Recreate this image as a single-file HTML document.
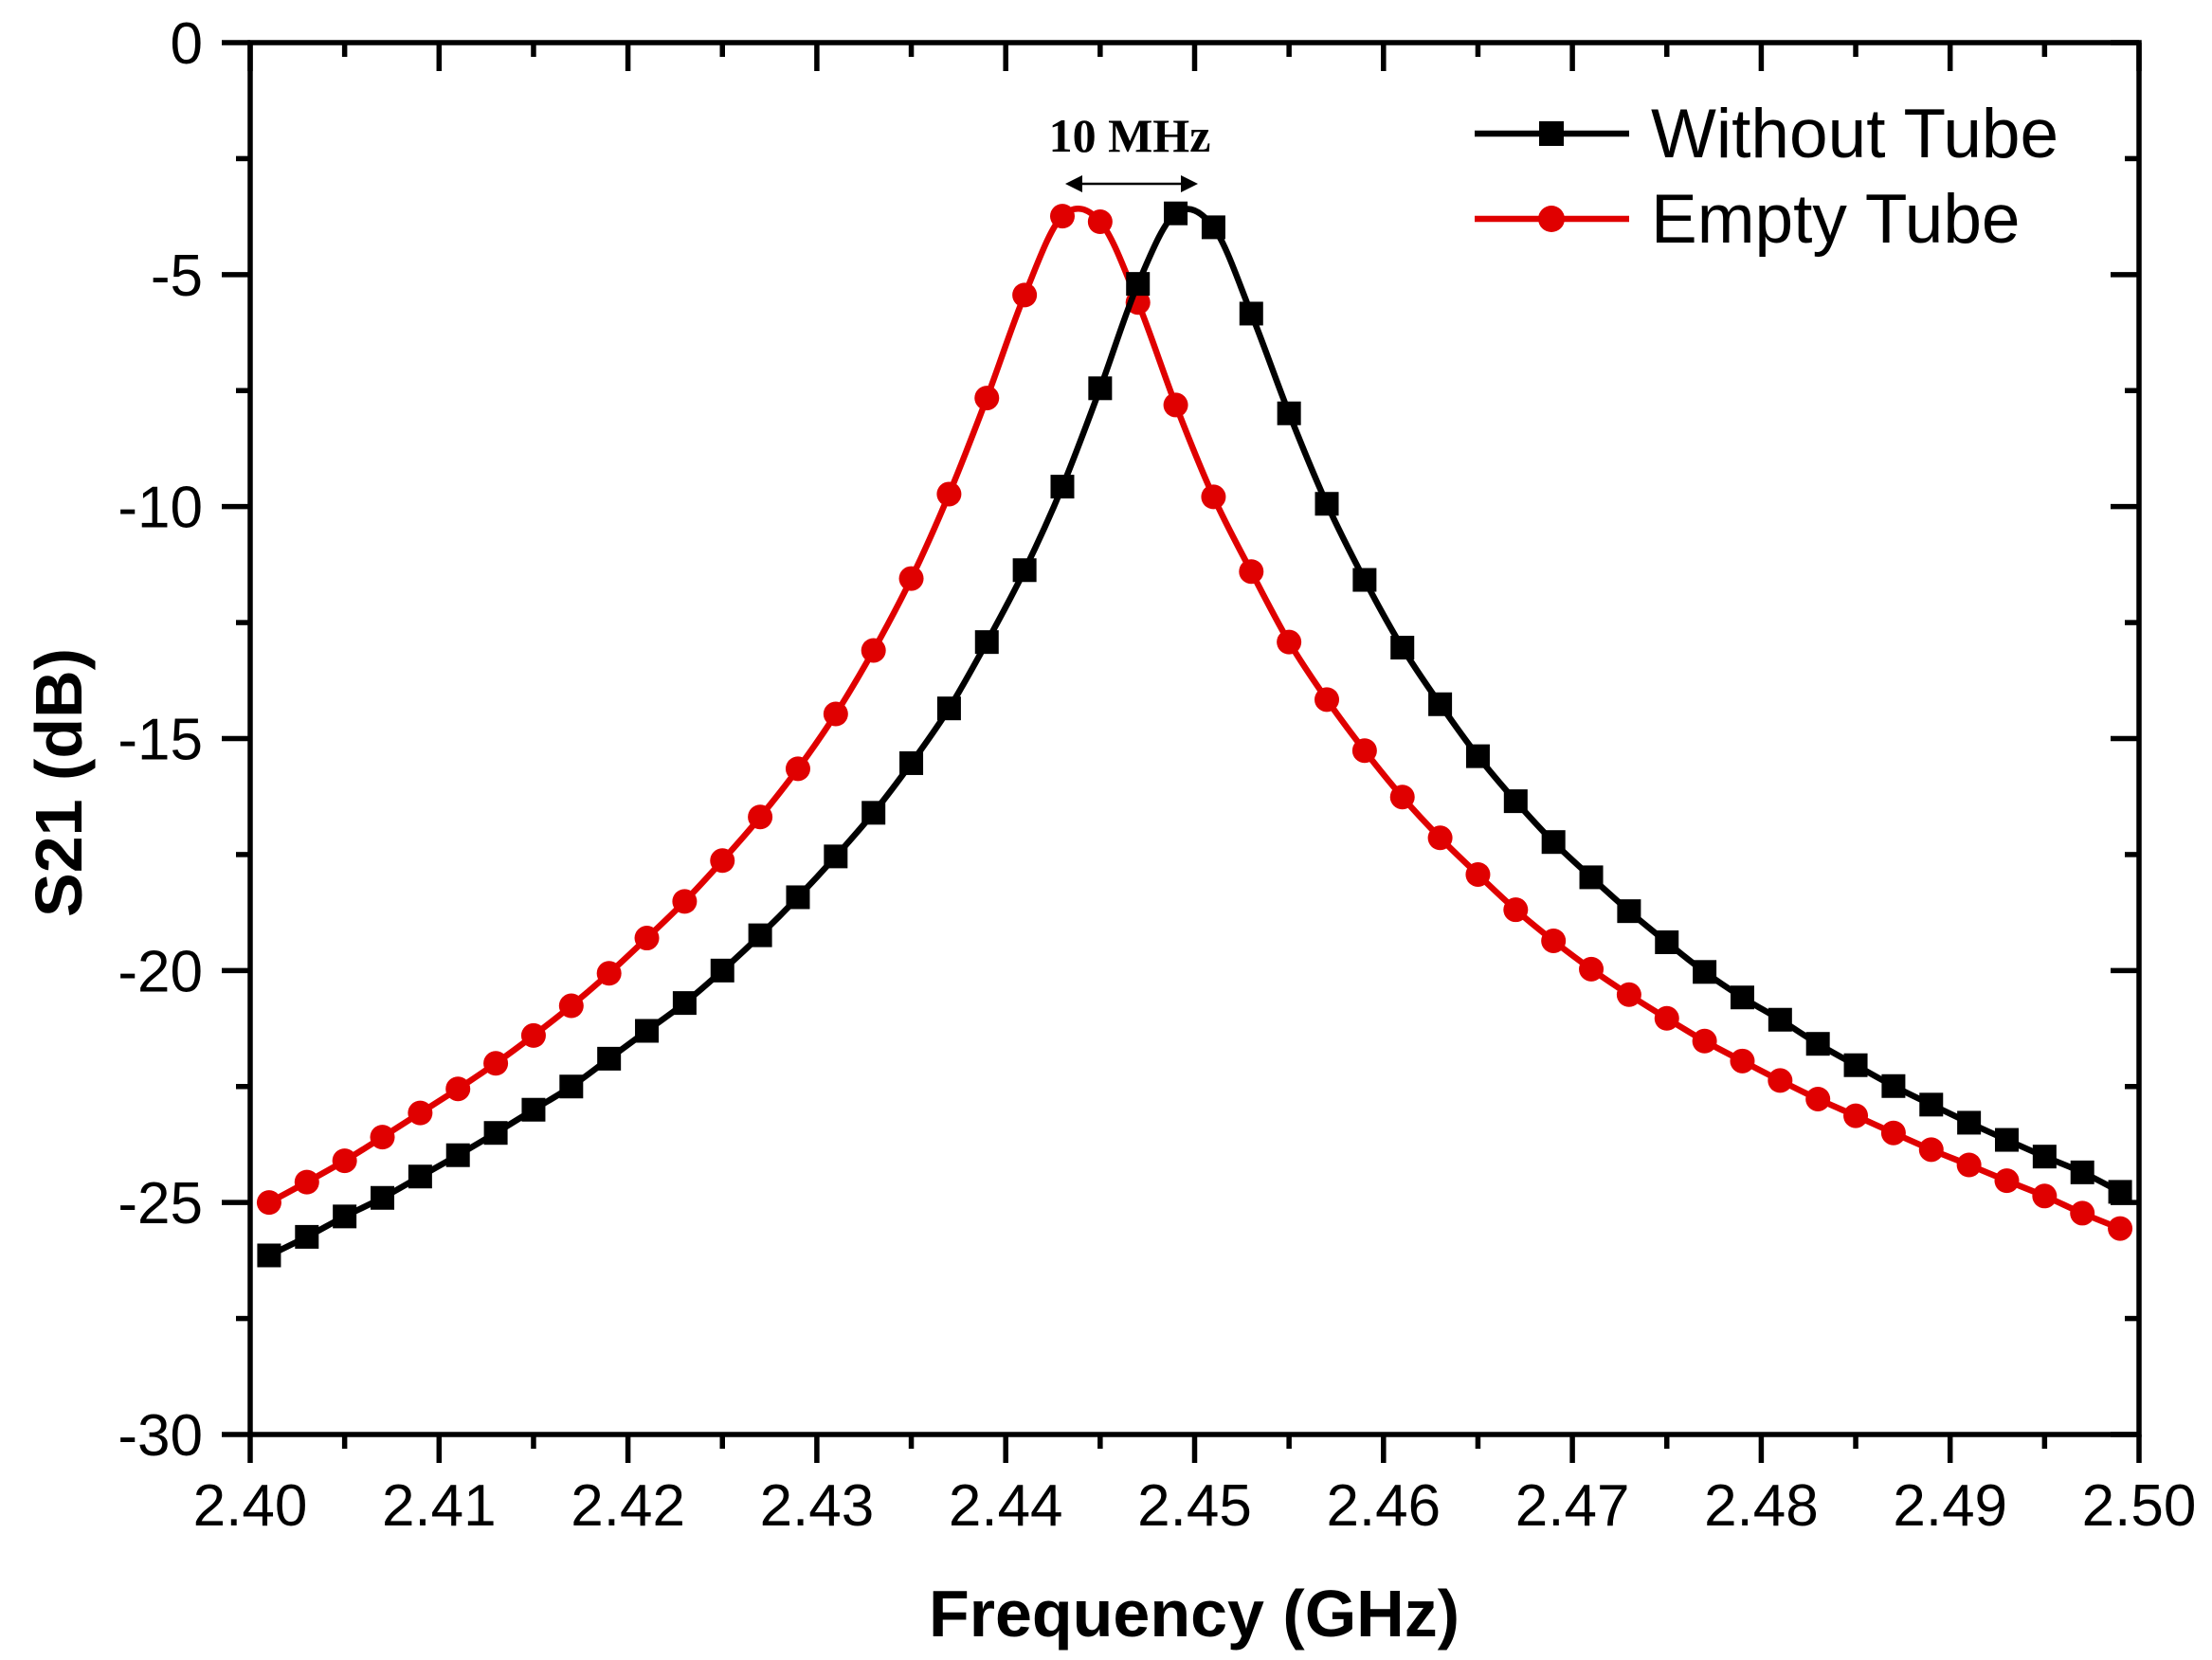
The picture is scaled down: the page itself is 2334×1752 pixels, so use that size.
<!DOCTYPE html>
<html><head><meta charset="utf-8"><style>
html,body{margin:0;padding:0;background:#fff;}
svg{display:block;}
text{font-family:"Liberation Sans",Arial,sans-serif;fill:#000;}
</style></head><body>
<svg id="chart" width="2334" height="1752" viewBox="0 0 2334 1752" xmlns="http://www.w3.org/2000/svg"></svg>
<script>
const freqs = [];
for (let i = 0; i < 50; i++) freqs.push(+(2.401 + 0.002 * i).toFixed(3));
const withoutTube = [-26.14,-25.74,-25.3,-24.9,-24.44,-23.98,-23.5,-23.0,-22.5,-21.9,-21.3,-20.7,-20.0,-19.24,-18.42,-17.54,-16.6,-15.53,-14.35,-12.92,-11.37,-9.57,-7.45,-5.2,-3.68,-3.98,-5.84,-7.99,-9.94,-11.58,-13.04,-14.26,-15.38,-16.35,-17.23,-17.99,-18.72,-19.39,-20.03,-20.58,-21.06,-21.58,-22.04,-22.49,-22.89,-23.28,-23.65,-24.01,-24.35,-24.77];
const emptyTube = [-25.0,-24.56,-24.1,-23.59,-23.07,-22.55,-22.0,-21.4,-20.76,-20.06,-19.3,-18.51,-17.63,-16.69,-15.65,-14.47,-13.1,-11.55,-9.73,-7.66,-5.44,-3.74,-3.86,-5.6,-7.81,-9.79,-11.4,-12.92,-14.16,-15.26,-16.26,-17.14,-17.93,-18.69,-19.36,-19.97,-20.52,-21.03,-21.52,-21.95,-22.37,-22.77,-23.13,-23.5,-23.86,-24.19,-24.53,-24.86,-25.23,-25.56];
const xTicks = [2.40,2.41,2.42,2.43,2.44,2.45,2.46,2.47,2.48,2.49,2.50];
const xTickLabels = ["2.40","2.41","2.42","2.43","2.44","2.45","2.46","2.47","2.48","2.49","2.50"];
const yTicks = [0,-5,-10,-15,-20,-25,-30];
const yTickLabels = ["0","-5","-10","-15","-20","-25","-30"];

const L=264,R=2257,T=45,B=1514;
const X0=2.40,X1=2.50,Y0=-30,Y1=0;
const sx=v=>L+(v-X0)/(X1-X0)*(R-L);
const sy=v=>B-(v-Y0)/(Y1-Y0)*(B-T);
const svg=document.getElementById('chart');
const NS='http://www.w3.org/2000/svg';
function mk(tag,attrs,parent){const e=document.createElementNS(NS,tag);for(const k in attrs)e.setAttribute(k,attrs[k]);(parent||svg).appendChild(e);return e;}

const tg=mk('g',{});


xTicks.forEach((v,i)=>{
  const x=sx(v);
  mk('line',{x1:x,y1:B,x2:x,y2:B+30,stroke:'#000','stroke-width':5.5},tg);
  mk('line',{x1:x,y1:T,x2:x,y2:T+30,stroke:'#000','stroke-width':5.5},tg);
  if(i<xTicks.length-1){const xm=sx(v+0.005);
    mk('line',{x1:xm,y1:B,x2:xm,y2:B+15,stroke:'#000','stroke-width':5.5},tg);
    mk('line',{x1:xm,y1:T,x2:xm,y2:T+15,stroke:'#000','stroke-width':5.5},tg);}
  const t=mk('text',{x:x,y:1610,'text-anchor':'middle','font-size':62},tg);
  t.textContent=xTickLabels[i];
  
  
});
yTicks.forEach((v,i)=>{
  const y=sy(v);
  mk('line',{x1:L-30,y1:y,x2:L,y2:y,stroke:'#000','stroke-width':5.5},tg);
  mk('line',{x1:R-30,y1:y,x2:R,y2:y,stroke:'#000','stroke-width':5.5},tg);
  if(i<yTicks.length-1){const ym=sy(v-2.5);
    mk('line',{x1:L-15,y1:ym,x2:L,y2:ym,stroke:'#000','stroke-width':5.5},tg);
    mk('line',{x1:R-15,y1:ym,x2:R,y2:ym,stroke:'#000','stroke-width':5.5},tg);}
  const t=mk('text',{x:214,y:y+22,'text-anchor':'end','font-size':62},tg);
  t.textContent=yTickLabels[i];
  
  
});
const frame=mk('rect',{x:L,y:T,width:R-L,height:B-T,fill:'none',stroke:'#000','stroke-width':5.5});



function smoothPath(xs,ys){
  const p=xs.map((x,i)=>[sx(x),sy(ys[i])]);
  let d='M'+p[0][0]+','+p[0][1];
  for(let i=0;i<p.length-1;i++){
    const p0=p[i-1]||p[i],p1=p[i],p2=p[i+1],p3=p[i+2]||p2;
    const c1=[p1[0]+(p2[0]-p0[0])/6,p1[1]+(p2[1]-p0[1])/6];
    const c2=[p2[0]-(p3[0]-p1[0])/6,p2[1]-(p3[1]-p1[1])/6];
    d+=' C'+c1[0]+','+c1[1]+' '+c2[0]+','+c2[1]+' '+p2[0]+','+p2[1];
  }
  return d;
}
function series(vals,color,shape,name){
  const g=mk('g',{});
  
  
  const pth=mk('path',{d:smoothPath(freqs,vals),fill:'none',stroke:color,'stroke-width':6.5},g);
  
  
  vals.forEach((v,i)=>{
    const x=sx(freqs[i]),y=sy(v);let m;
    if(shape==='square') m=mk('rect',{x:x-12.5,y:y-12.5,width:25,height:25,fill:color},g);
    else m=mk('circle',{cx:x,cy:y,r:13,fill:color},g);
    
    
  });
}
series(emptyTube,'#e00000','circle','empty-tube-series');
series(withoutTube,'#000','square','without-tube-series');

const lg=mk('g',{});


mk('line',{x1:1556,y1:141,x2:1719,y2:141,stroke:'#000','stroke-width':6.5},lg);
mk('rect',{x:1624,y:128,width:26,height:26,fill:'#000'},lg);
const l1=mk('text',{x:1742,y:166,'font-size':73},lg);l1.textContent='Without Tube';


mk('line',{x1:1556,y1:231,x2:1719,y2:231,stroke:'#e00000','stroke-width':6.5},lg);
mk('circle',{cx:1637,cy:231,r:14,fill:'#e00000'},lg);
const l2=mk('text',{x:1742,y:256,'font-size':73},lg);l2.textContent='Empty Tube';



const an=mk('text',{x:1192,y:160,'text-anchor':'middle','font-size':50,'font-weight':'bold',style:'font-family:"Liberation Serif",serif'});
an.textContent='10 MHz';


const ar=mk('g',{});


mk('line',{x1:1130,y1:194,x2:1258,y2:194,stroke:'#000','stroke-width':2.5},ar);
mk('path',{d:'M1124,194 L1142,185 L1142,203 Z',fill:'#000'},ar);
mk('path',{d:'M1264,194 L1246,185 L1246,203 Z',fill:'#000'},ar);

const xt=mk('text',{x:1260,y:1727,'text-anchor':'middle','font-size':70,'font-weight':'bold'});
xt.textContent='Frequency (GHz)';


const yt=mk('text',{x:0,y:0,'text-anchor':'middle','font-size':70,'font-weight':'bold',transform:'translate(86,826) rotate(-90)'});
yt.textContent='S21 (dB)';


</script>
</body></html>
